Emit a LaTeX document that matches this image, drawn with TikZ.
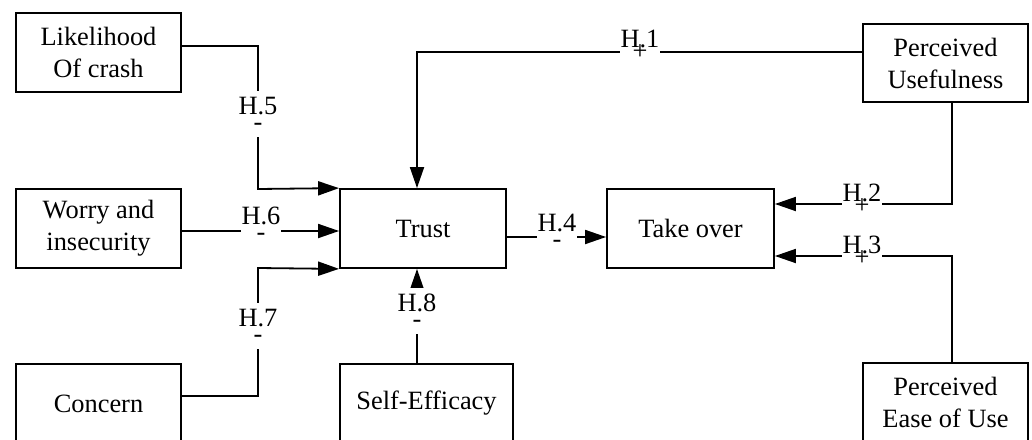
\documentclass[tikz,border=0pt]{standalone}
\usepackage{fontspec}
\setmainfont{Liberation Serif}
\usetikzlibrary{arrows.meta}
\begin{document}
\begin{tikzpicture}[x=0.5pt,y=-0.5pt,
  box/.style={draw, line width=0.9pt, inner sep=0pt, align=center,
    font=\fontsize{13.2pt}{16pt}\selectfont, minimum height=39.5pt, minimum width=82.5pt},
  conn/.style={line width=0.9pt, line join=miter},
  arr/.style={conn, -{Triangle[length=10.5pt,width=7pt]}},
  lbl/.style={fill=white, inner xsep=0.5pt, inner ysep=3pt, align=center,
    font=\fontsize{13.2pt}{8pt}\selectfont},
]
\useasboundingbox (0,0) rectangle (1032,439);
% boxes
\node[box] (lik) at (98.5,52.5) {Likelihood\\Of crash};
\node[box] (wor) at (98.5,228.5) {Worry and\\insecurity};
\node[box] (con) at (98.5,403.5) {Concern};
\node[box, minimum width=83pt] (tru) at (423,228.5) {Trust};
\node[box, minimum width=86.5pt] (sel) at (426.5,403.5) {Self-Efficacy};
\node[box, minimum width=83.5pt] (tak) at (690.5,228.5) {Take over};
\node[box, minimum height=39pt] (pu) at (945.5,63) {Perceived\\Usefulness};
\node[box] (peu) at (945.5,402.5) {Perceived\\Ease of Use};
% connectors
\draw[arr] (lik.east |- 0,46) -- (258,46) -- (258,189) -- (tru.north west);
\draw[arr] (wor.east |- 0,231) -- (tru.west |- 0,231);
\draw[arr] (con.east |- 0,396) -- (258,396) -- (258,268) -- (tru.south west);
\draw[arr] (sel.north -| 417,0) -- (tru.south -| 417,0);
\draw[arr] (tru.east |- 0,237) -- (tak.west |- 0,237);
\draw[arr] (pu.west |- 0,52) -- (417,52) -- (tru.north -| 417,0);
\draw[arr] (pu.south -| 952,0) -- (952,204) -- (tak.east |- 0,204);
\draw[arr] (peu.north -| 952,0) -- (952,256) -- (tak.east |- 0,256);
% labels
\node[lbl] (h1) at (640,45) {H.1\\[-1.75pt]+};
\node[lbl] (h2) at (862,199) {H.2\\[-1.75pt]+};
\node[lbl] (h3) at (862,251) {H.3\\[-1.75pt]+};
\node[lbl] (h4) at (557,231) {H.4\\-};
\node[lbl] (h5) at (258,114) {H.5\\-};
\node[lbl] (h6) at (261,224) {H.6\\-};
\node[lbl] (h7) at (258,326) {H.7\\-};
\node[lbl] (h8) at (417,311) {H.8\\-};
\end{tikzpicture}
\end{document}
